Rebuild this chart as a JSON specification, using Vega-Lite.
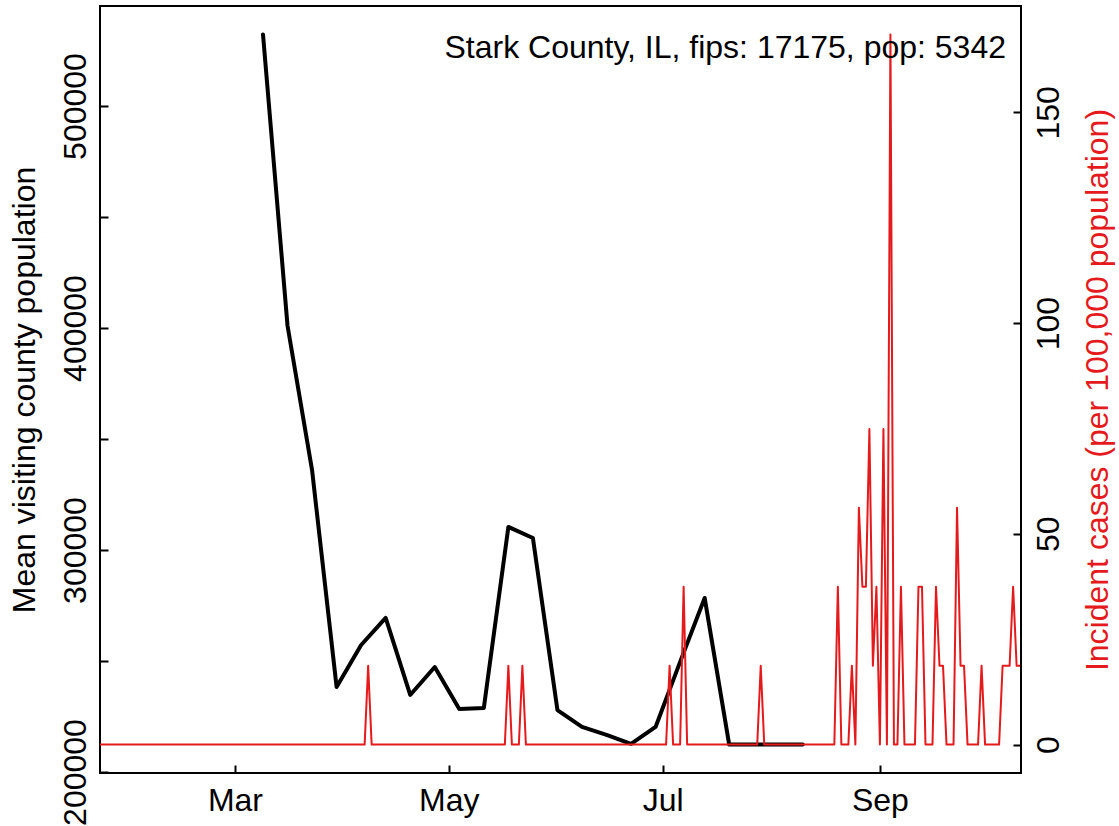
{
  "$schema": "https://vega.github.io/schema/vega-lite/v6.json",
  "width": 921,
  "height": 767,
  "autosize": {"type": "none"},
  "padding": {"left": 100, "top": 6, "right": 98, "bottom": 53},
  "background": "white",
  "config": {
    "view": {"stroke": "black", "strokeWidth": 2},
    "font": "Liberation Sans",
    "axis": {
      "domain": false,
      "grid": false,
      "tickSize": -8,
      "tickWidth": 2,
      "tickColor": "black",
      "labelFont": "Liberation Sans",
      "labelFontSize": 32,
      "labelColor": "black",
      "titleFont": "Liberation Sans",
      "titleFontSize": 32,
      "titleFontWeight": "normal",
      "titleColor": "black",
      "labelOverlap": false,
      "labelFlush": false
    }
  },
  "title": {
    "text": "Stark County, IL, fips: 17175, pop: 5342",
    "anchor": "end",
    "frame": "group",
    "orient": "top",
    "font": "Liberation Sans",
    "fontSize": 32,
    "fontWeight": "normal",
    "color": "black",
    "baseline": "alphabetic",
    "offset": 0,
    "dy": 84,
    "dx": -15
  },
  "datasets": {
    "visit": [
      {"date": "2020-03-09", "visitors": 532250},
      {"date": "2020-03-16", "visitors": 401000},
      {"date": "2020-03-23", "visitors": 336000},
      {"date": "2020-03-30", "visitors": 238300},
      {"date": "2020-04-06", "visitors": 257200},
      {"date": "2020-04-13", "visitors": 269400},
      {"date": "2020-04-20", "visitors": 234700},
      {"date": "2020-04-27", "visitors": 247300},
      {"date": "2020-05-04", "visitors": 228400},
      {"date": "2020-05-11", "visitors": 228800},
      {"date": "2020-05-18", "visitors": 310400},
      {"date": "2020-05-25", "visitors": 305400},
      {"date": "2020-06-01", "visitors": 227900},
      {"date": "2020-06-08", "visitors": 220300},
      {"date": "2020-06-15", "visitors": 216700},
      {"date": "2020-06-22", "visitors": 212700},
      {"date": "2020-06-29", "visitors": 220300},
      {"date": "2020-07-06", "visitors": 249600},
      {"date": "2020-07-13", "visitors": 278400},
      {"date": "2020-07-20", "visitors": 212350},
      {"date": "2020-07-27", "visitors": 212350},
      {"date": "2020-08-03", "visitors": 212350},
      {"date": "2020-08-10", "visitors": 212350}
    ],
    "cases": [
      {"date": "2020-01-22", "cases": 0}, {"date": "2020-01-23", "cases": 0}, {"date": "2020-01-24", "cases": 0}, {"date": "2020-01-25", "cases": 0}, {"date": "2020-01-26", "cases": 0}, {"date": "2020-01-27", "cases": 0}, {"date": "2020-01-28", "cases": 0}, {"date": "2020-01-29", "cases": 0}, {"date": "2020-01-30", "cases": 0}, {"date": "2020-01-31", "cases": 0},
      {"date": "2020-02-01", "cases": 0}, {"date": "2020-02-02", "cases": 0}, {"date": "2020-02-03", "cases": 0}, {"date": "2020-02-04", "cases": 0}, {"date": "2020-02-05", "cases": 0}, {"date": "2020-02-06", "cases": 0}, {"date": "2020-02-07", "cases": 0}, {"date": "2020-02-08", "cases": 0}, {"date": "2020-02-09", "cases": 0}, {"date": "2020-02-10", "cases": 0},
      {"date": "2020-02-11", "cases": 0}, {"date": "2020-02-12", "cases": 0}, {"date": "2020-02-13", "cases": 0}, {"date": "2020-02-14", "cases": 0}, {"date": "2020-02-15", "cases": 0}, {"date": "2020-02-16", "cases": 0}, {"date": "2020-02-17", "cases": 0}, {"date": "2020-02-18", "cases": 0}, {"date": "2020-02-19", "cases": 0}, {"date": "2020-02-20", "cases": 0},
      {"date": "2020-02-21", "cases": 0}, {"date": "2020-02-22", "cases": 0}, {"date": "2020-02-23", "cases": 0}, {"date": "2020-02-24", "cases": 0}, {"date": "2020-02-25", "cases": 0}, {"date": "2020-02-26", "cases": 0}, {"date": "2020-02-27", "cases": 0}, {"date": "2020-02-28", "cases": 0}, {"date": "2020-02-29", "cases": 0},
      {"date": "2020-03-01", "cases": 0}, {"date": "2020-03-02", "cases": 0}, {"date": "2020-03-03", "cases": 0}, {"date": "2020-03-04", "cases": 0}, {"date": "2020-03-05", "cases": 0}, {"date": "2020-03-06", "cases": 0}, {"date": "2020-03-07", "cases": 0}, {"date": "2020-03-08", "cases": 0}, {"date": "2020-03-09", "cases": 0}, {"date": "2020-03-10", "cases": 0},
      {"date": "2020-03-11", "cases": 0}, {"date": "2020-03-12", "cases": 0}, {"date": "2020-03-13", "cases": 0}, {"date": "2020-03-14", "cases": 0}, {"date": "2020-03-15", "cases": 0}, {"date": "2020-03-16", "cases": 0}, {"date": "2020-03-17", "cases": 0}, {"date": "2020-03-18", "cases": 0}, {"date": "2020-03-19", "cases": 0}, {"date": "2020-03-20", "cases": 0},
      {"date": "2020-03-21", "cases": 0}, {"date": "2020-03-22", "cases": 0}, {"date": "2020-03-23", "cases": 0}, {"date": "2020-03-24", "cases": 0}, {"date": "2020-03-25", "cases": 0}, {"date": "2020-03-26", "cases": 0}, {"date": "2020-03-27", "cases": 0}, {"date": "2020-03-28", "cases": 0}, {"date": "2020-03-29", "cases": 0}, {"date": "2020-03-30", "cases": 0}, {"date": "2020-03-31", "cases": 0},
      {"date": "2020-04-01", "cases": 0}, {"date": "2020-04-02", "cases": 0}, {"date": "2020-04-03", "cases": 0}, {"date": "2020-04-04", "cases": 0}, {"date": "2020-04-05", "cases": 0}, {"date": "2020-04-06", "cases": 0}, {"date": "2020-04-07", "cases": 0}, {"date": "2020-04-08", "cases": 18.72}, {"date": "2020-04-09", "cases": 0}, {"date": "2020-04-10", "cases": 0},
      {"date": "2020-04-11", "cases": 0}, {"date": "2020-04-12", "cases": 0}, {"date": "2020-04-13", "cases": 0}, {"date": "2020-04-14", "cases": 0}, {"date": "2020-04-15", "cases": 0}, {"date": "2020-04-16", "cases": 0}, {"date": "2020-04-17", "cases": 0}, {"date": "2020-04-18", "cases": 0}, {"date": "2020-04-19", "cases": 0}, {"date": "2020-04-20", "cases": 0},
      {"date": "2020-04-21", "cases": 0}, {"date": "2020-04-22", "cases": 0}, {"date": "2020-04-23", "cases": 0}, {"date": "2020-04-24", "cases": 0}, {"date": "2020-04-25", "cases": 0}, {"date": "2020-04-26", "cases": 0}, {"date": "2020-04-27", "cases": 0}, {"date": "2020-04-28", "cases": 0}, {"date": "2020-04-29", "cases": 0}, {"date": "2020-04-30", "cases": 0},
      {"date": "2020-05-01", "cases": 0}, {"date": "2020-05-02", "cases": 0}, {"date": "2020-05-03", "cases": 0}, {"date": "2020-05-04", "cases": 0}, {"date": "2020-05-05", "cases": 0}, {"date": "2020-05-06", "cases": 0}, {"date": "2020-05-07", "cases": 0}, {"date": "2020-05-08", "cases": 0}, {"date": "2020-05-09", "cases": 0}, {"date": "2020-05-10", "cases": 0},
      {"date": "2020-05-11", "cases": 0}, {"date": "2020-05-12", "cases": 0}, {"date": "2020-05-13", "cases": 0}, {"date": "2020-05-14", "cases": 0}, {"date": "2020-05-15", "cases": 0}, {"date": "2020-05-16", "cases": 0}, {"date": "2020-05-17", "cases": 0}, {"date": "2020-05-18", "cases": 18.72}, {"date": "2020-05-19", "cases": 0}, {"date": "2020-05-20", "cases": 0},
      {"date": "2020-05-21", "cases": 0}, {"date": "2020-05-22", "cases": 18.72}, {"date": "2020-05-23", "cases": 0}, {"date": "2020-05-24", "cases": 0}, {"date": "2020-05-25", "cases": 0}, {"date": "2020-05-26", "cases": 0}, {"date": "2020-05-27", "cases": 0}, {"date": "2020-05-28", "cases": 0}, {"date": "2020-05-29", "cases": 0}, {"date": "2020-05-30", "cases": 0}, {"date": "2020-05-31", "cases": 0},
      {"date": "2020-06-01", "cases": 0}, {"date": "2020-06-02", "cases": 0}, {"date": "2020-06-03", "cases": 0}, {"date": "2020-06-04", "cases": 0}, {"date": "2020-06-05", "cases": 0}, {"date": "2020-06-06", "cases": 0}, {"date": "2020-06-07", "cases": 0}, {"date": "2020-06-08", "cases": 0}, {"date": "2020-06-09", "cases": 0}, {"date": "2020-06-10", "cases": 0},
      {"date": "2020-06-11", "cases": 0}, {"date": "2020-06-12", "cases": 0}, {"date": "2020-06-13", "cases": 0}, {"date": "2020-06-14", "cases": 0}, {"date": "2020-06-15", "cases": 0}, {"date": "2020-06-16", "cases": 0}, {"date": "2020-06-17", "cases": 0}, {"date": "2020-06-18", "cases": 0}, {"date": "2020-06-19", "cases": 0}, {"date": "2020-06-20", "cases": 0},
      {"date": "2020-06-21", "cases": 0}, {"date": "2020-06-22", "cases": 0}, {"date": "2020-06-23", "cases": 0}, {"date": "2020-06-24", "cases": 0}, {"date": "2020-06-25", "cases": 0}, {"date": "2020-06-26", "cases": 0}, {"date": "2020-06-27", "cases": 0}, {"date": "2020-06-28", "cases": 0}, {"date": "2020-06-29", "cases": 0}, {"date": "2020-06-30", "cases": 0},
      {"date": "2020-07-01", "cases": 0}, {"date": "2020-07-02", "cases": 0}, {"date": "2020-07-03", "cases": 18.72}, {"date": "2020-07-04", "cases": 0}, {"date": "2020-07-05", "cases": 0}, {"date": "2020-07-06", "cases": 0}, {"date": "2020-07-07", "cases": 37.44}, {"date": "2020-07-08", "cases": 0}, {"date": "2020-07-09", "cases": 0}, {"date": "2020-07-10", "cases": 0},
      {"date": "2020-07-11", "cases": 0}, {"date": "2020-07-12", "cases": 0}, {"date": "2020-07-13", "cases": 0}, {"date": "2020-07-14", "cases": 0}, {"date": "2020-07-15", "cases": 0}, {"date": "2020-07-16", "cases": 0}, {"date": "2020-07-17", "cases": 0}, {"date": "2020-07-18", "cases": 0}, {"date": "2020-07-19", "cases": 0}, {"date": "2020-07-20", "cases": 0},
      {"date": "2020-07-21", "cases": 0}, {"date": "2020-07-22", "cases": 0}, {"date": "2020-07-23", "cases": 0}, {"date": "2020-07-24", "cases": 0}, {"date": "2020-07-25", "cases": 0}, {"date": "2020-07-26", "cases": 0}, {"date": "2020-07-27", "cases": 0}, {"date": "2020-07-28", "cases": 0}, {"date": "2020-07-29", "cases": 18.72}, {"date": "2020-07-30", "cases": 0}, {"date": "2020-07-31", "cases": 0},
      {"date": "2020-08-01", "cases": 0}, {"date": "2020-08-02", "cases": 0}, {"date": "2020-08-03", "cases": 0}, {"date": "2020-08-04", "cases": 0}, {"date": "2020-08-05", "cases": 0}, {"date": "2020-08-06", "cases": 0}, {"date": "2020-08-07", "cases": 0}, {"date": "2020-08-08", "cases": 0}, {"date": "2020-08-09", "cases": 0}, {"date": "2020-08-10", "cases": 0},
      {"date": "2020-08-11", "cases": 0}, {"date": "2020-08-12", "cases": 0}, {"date": "2020-08-13", "cases": 0}, {"date": "2020-08-14", "cases": 0}, {"date": "2020-08-15", "cases": 0}, {"date": "2020-08-16", "cases": 0}, {"date": "2020-08-17", "cases": 0}, {"date": "2020-08-18", "cases": 0}, {"date": "2020-08-19", "cases": 0}, {"date": "2020-08-20", "cases": 37.44},
      {"date": "2020-08-21", "cases": 0}, {"date": "2020-08-22", "cases": 0}, {"date": "2020-08-23", "cases": 0}, {"date": "2020-08-24", "cases": 18.72}, {"date": "2020-08-25", "cases": 0}, {"date": "2020-08-26", "cases": 56.16}, {"date": "2020-08-27", "cases": 37.44}, {"date": "2020-08-28", "cases": 37.44}, {"date": "2020-08-29", "cases": 74.88}, {"date": "2020-08-30", "cases": 18.72}, {"date": "2020-08-31", "cases": 37.44},
      {"date": "2020-09-01", "cases": 0}, {"date": "2020-09-02", "cases": 74.88}, {"date": "2020-09-03", "cases": 0}, {"date": "2020-09-04", "cases": 168.48}, {"date": "2020-09-05", "cases": 0}, {"date": "2020-09-06", "cases": 0}, {"date": "2020-09-07", "cases": 37.44}, {"date": "2020-09-08", "cases": 0}, {"date": "2020-09-09", "cases": 0}, {"date": "2020-09-10", "cases": 0},
      {"date": "2020-09-11", "cases": 0}, {"date": "2020-09-12", "cases": 37.44}, {"date": "2020-09-13", "cases": 37.44}, {"date": "2020-09-14", "cases": 0}, {"date": "2020-09-15", "cases": 0}, {"date": "2020-09-16", "cases": 0}, {"date": "2020-09-17", "cases": 37.44}, {"date": "2020-09-18", "cases": 18.72}, {"date": "2020-09-19", "cases": 18.72}, {"date": "2020-09-20", "cases": 0},
      {"date": "2020-09-21", "cases": 0}, {"date": "2020-09-22", "cases": 0}, {"date": "2020-09-23", "cases": 56.16}, {"date": "2020-09-24", "cases": 18.72}, {"date": "2020-09-25", "cases": 18.72}, {"date": "2020-09-26", "cases": 0}, {"date": "2020-09-27", "cases": 0}, {"date": "2020-09-28", "cases": 0}, {"date": "2020-09-29", "cases": 0}, {"date": "2020-09-30", "cases": 18.72},
      {"date": "2020-10-01", "cases": 0}, {"date": "2020-10-02", "cases": 0}, {"date": "2020-10-03", "cases": 0}, {"date": "2020-10-04", "cases": 0}, {"date": "2020-10-05", "cases": 0}, {"date": "2020-10-06", "cases": 18.72}, {"date": "2020-10-07", "cases": 18.72}, {"date": "2020-10-08", "cases": 18.72}, {"date": "2020-10-09", "cases": 37.44}, {"date": "2020-10-10", "cases": 18.72}, {"date": "2020-10-11", "cases": 18.72}
    ]
  },
  "layer": [
    {
      "data": {"name": "visit"},
      "mark": {"type": "line", "color": "black", "strokeWidth": 4, "strokeJoin": "round", "strokeCap": "round", "clip": true},
      "encoding": {
        "x": {
          "field": "date",
          "type": "temporal",
          "scale": {"type": "utc", "domain": [1579694400000, 1602396000000]},
          "axis": {
            "orient": "bottom",
            "title": null,
            "values": [1583020800000, 1588291200000, 1593561600000, 1598918400000],
            "labelExpr": "utcFormat(datum.value, '%b')",
            "labelAngle": 0,
            "labelAlign": "center",
            "labelBaseline": "top",
            "labelPadding": 20
          }
        },
        "y": {
          "field": "visitors",
          "type": "quantitative",
          "scale": {"domain": [199550, 545045], "zero": false, "nice": false},
          "axis": {
            "orient": "left",
            "title": "Mean visiting county population",
            "values": [200000, 250000, 300000, 350000, 400000, 450000, 500000],
            "labelExpr": "datum.value % 100000 === 0 ? format(datum.value, 'd') : ''",
            "labelAngle": 270,
            "labelAlign": "center",
            "labelBaseline": "alphabetic",
            "labelPadding": 23,
            "titleAngle": 270,
            "titleBaseline": "alphabetic",
            "titlePadding": 25
          }
        }
      }
    },
    {
      "data": {"name": "cases"},
      "mark": {"type": "line", "color": "#e41a1c", "strokeWidth": 2, "strokeJoin": "round", "clip": true},
      "encoding": {
        "x": {"field": "date", "type": "temporal"},
        "y": {
          "field": "cases",
          "type": "quantitative",
          "scale": {"domain": [-6.739, 175.215], "zero": false, "nice": false},
          "axis": {
            "orient": "right",
            "title": "Incident cases (per 100,000 population)",
            "titleColor": "#e41a1c",
            "values": [0, 50, 100, 150],
            "labelAngle": 270,
            "labelAlign": "center",
            "labelBaseline": "top",
            "labelPadding": 20,
            "titleAngle": 270,
            "titleBaseline": "top",
            "titlePadding": 18
          }
        }
      }
    }
  ],
  "resolve": {"scale": {"y": "independent"}}
}
